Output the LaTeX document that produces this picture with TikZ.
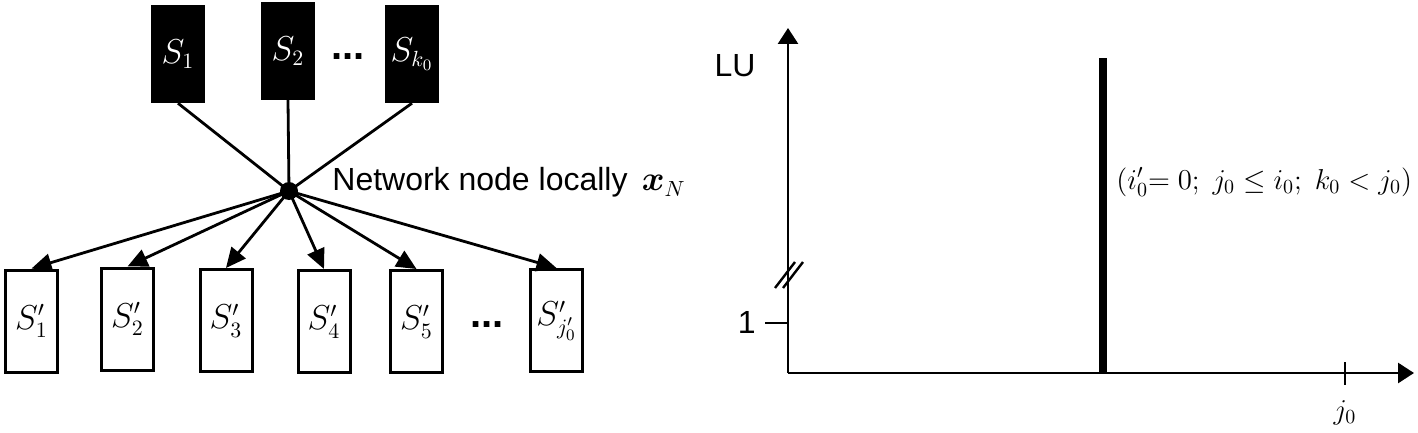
\documentclass[tikz,border=0pt]{standalone}
\usepackage{fontspec}
\usepackage{bm}
\setmainfont{Liberation Sans}
\usetikzlibrary{arrows.meta}
\tikzset{
  topbox/.style={draw=black, fill=black, text=white, line width=1.2pt, minimum width=26pt, minimum height=48pt, inner sep=0pt, font=\fontsize{16}{18}\selectfont},
  botbox/.style={draw=black, fill=white, line width=1.5pt, minimum width=26pt, minimum height=51pt, inner sep=0pt, font=\fontsize{16}{18}\selectfont},
  hubdot/.style={circle, fill=black, minimum size=9pt, inner sep=0pt},
  conn/.style={line width=1.4pt},
  arr/.style={line width=1.4pt, -{Triangle[length=10pt,width=9pt]}},
  dots/.style={font=\fontsize{20}{20}\selectfont\bfseries, inner sep=0pt},
  axis/.style={line width=1.4pt, -{Triangle[length=8pt,width=10pt]}},
  lbl/.style={font=\fontsize{16}{18}\selectfont, inner sep=0pt},
  mlbl/.style={font=\fontsize{14.3}{16}\selectfont, inner sep=0pt}
}
\begin{document}
\begin{tikzpicture}[x=0.5pt, y=-0.5pt]
\useasboundingbox (0,0) rectangle (1418,433);
% top sources
\node[topbox] (s1) at (178,54) {$S_1$};
\node[topbox] (s2) at (288,51) {$S_2$};
\node[topbox] (sk) at (412,54) {$S_{k_0}$};
\node[dots] (td) at (348,57) {...};
% hub
\node[hubdot] (hub) at (289,191) {};
\node[lbl, anchor=base west] (hl) at (332,191) {Network node locally \,$\bm{x}_N$};
% bottom
\node[botbox] (b1) at (31.5,321) {$S'_1$};
\node[botbox] (b2) at (127.5,319) {$S'_2$};
\node[botbox] (b3) at (226,320.5) {$S'_3$};
\node[botbox] (b4) at (324,321.5) {$S'_4$};
\node[botbox] (b5) at (416.5,321.5) {$S'_5$};
\node[dots] (bd) at (487,325) {...};
\node[botbox] (bj) at (556.5,320.5) {$S'_{j'_0}$};
% connectors
\draw[conn] (s1.south) -- (hub.center);
\draw[conn] (s2.south) -- (hub.center);
\draw[conn] (sk.south) -- (hub.center);
\foreach \b in {b1,b2,b3,b4,b5,bj} \draw[arr] (hub.center) -- (\b.north);
% right plot
\coordinate (O) at (788,373);
\coordinate (ytop) at (788,28);
\coordinate (xend) at (1414,373);
\draw[axis] (O) -- (ytop);
\draw[axis] (O) -- (xend);
\node[lbl, anchor=base east] (lu) at (756,77) {LU};
\coordinate (t1a) at (765,323);
\coordinate (t1b) at (788,323);
\draw[line width=1.4pt] (t1a) -- (t1b);
\node[lbl, anchor=base east] (one) at (756,333) {1};
\coordinate (br1a) at (775,288);
\coordinate (br1b) at (795,262);
\coordinate (br2a) at (783,288);
\coordinate (br2b) at (803,262);
\draw[line width=1.2pt] (br1a) -- (br1b);
\draw[line width=1.2pt] (br2a) -- (br2b);
\coordinate (bar0) at (1103,373);
\coordinate (bar1) at (1103,58);
\draw[line width=3.6pt] (bar0) -- (bar1);
\coordinate (tka) at (1345,362);
\coordinate (tkb) at (1345,385);
\draw[line width=1.2pt] (tka) -- (tkb);
\node[mlbl] (j0) at (1345,413) {$j_0$};
\node[mlbl, anchor=west] (cond) at (1116,182) {$(i'_0{=}\ 0;\ j_0\leq i_0;\ k_0<j_0)$};
\end{tikzpicture}
\end{document}
